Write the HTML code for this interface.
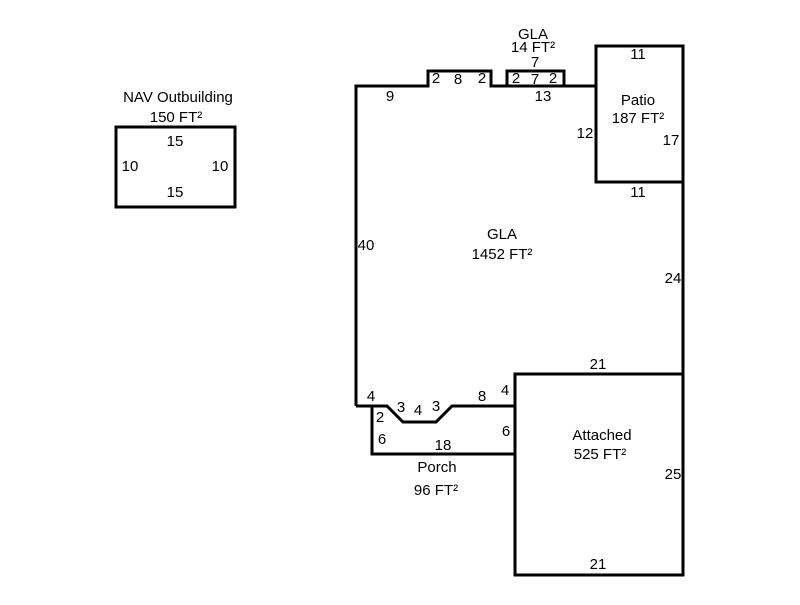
<!DOCTYPE html>
<html><head><style>
html,body{margin:0;padding:0;background:#fff;}
svg text{font-family:"Liberation Sans",Arial,sans-serif;font-size:15px;fill:#000;text-anchor:middle;}
</style></head><body>
<svg width="800" height="600" viewBox="0 0 800 600" xmlns="http://www.w3.org/2000/svg">
<g fill="none" stroke="#000" stroke-width="3">
<rect x="116" y="127" width="119" height="80"/>
<path d="M356,406 L356,86 L428,86 L428,71 L491,71 L491,86 L596,86"/>
<rect x="507" y="71" width="57" height="15"/>
<rect x="596" y="46" width="87" height="136"/>
<path d="M683,182 L683,575 L515,575 L515,374 L683,374"/>
<path d="M356,406 L387,406 L403,422 L436,422 L452,406 L515,406"/>
<path d="M372,406 L372,454 L515,454"/>
</g>
<text x="178" y="102">NAV Outbuilding</text>
<text x="176" y="122">150 FT²</text>
<text x="175" y="146">15</text>
<text x="175" y="197">15</text>
<text x="130" y="171">10</text>
<text x="220" y="171">10</text>
<text x="533" y="39">GLA</text>
<text x="533" y="52">14 FT²</text>
<text x="535" y="67">7</text>
<text x="436" y="83">2</text>
<text x="458" y="84">8</text>
<text x="482" y="83">2</text>
<text x="516" y="83">2</text>
<text x="535" y="84">7</text>
<text x="553" y="83">2</text>
<text x="390" y="101">9</text>
<text x="543" y="101">13</text>
<text x="638" y="59">11</text>
<text x="638" y="105">Patio</text>
<text x="638" y="123">187 FT²</text>
<text x="585" y="138">12</text>
<text x="671" y="145">17</text>
<text x="638" y="197">11</text>
<text x="502" y="239">GLA</text>
<text x="502" y="259">1452 FT²</text>
<text x="366" y="250">40</text>
<text x="673" y="283">24</text>
<text x="598" y="369">21</text>
<text x="371" y="401">4</text>
<text x="401" y="412">3</text>
<text x="418" y="415">4</text>
<text x="436" y="411">3</text>
<text x="482" y="401">8</text>
<text x="505" y="395">4</text>
<text x="380" y="422">2</text>
<text x="382" y="444">6</text>
<text x="443" y="450">18</text>
<text x="506" y="436">6</text>
<text x="437" y="472">Porch</text>
<text x="436" y="495">96 FT²</text>
<text x="602" y="440">Attached</text>
<text x="600" y="459">525 FT²</text>
<text x="673" y="479">25</text>
<text x="598" y="569">21</text>
</svg>
</body></html>
